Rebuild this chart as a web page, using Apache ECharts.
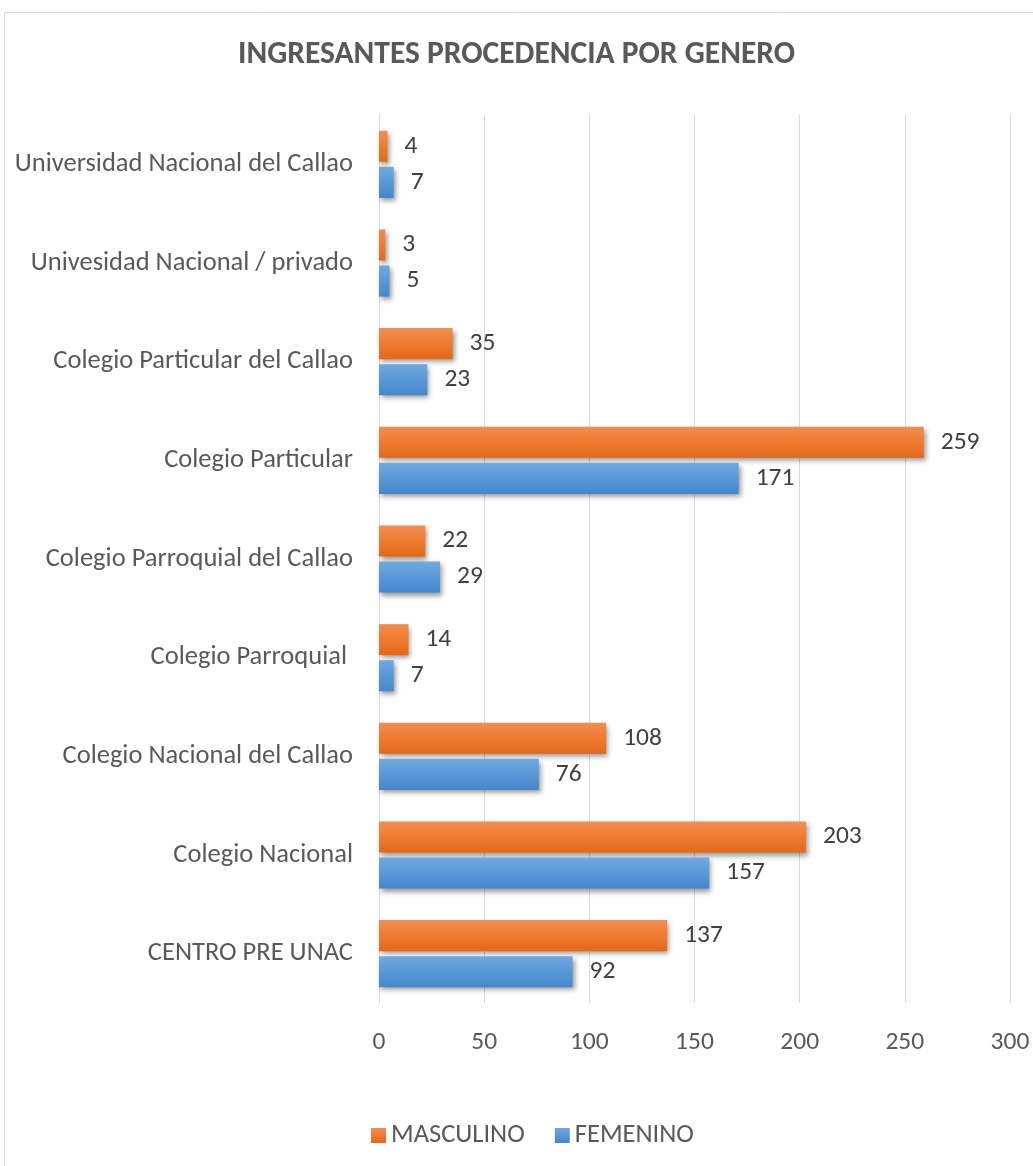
<!DOCTYPE html>
<html>
<head>
<meta charset="utf-8">
<script src="https://cdn.jsdelivr.net/npm/echarts@6/dist/echarts.min.js"></script>
<style>
html,body{margin:0;padding:0;background:#fff;}
#chart{width:1033px;height:1166px;}
</style>
</head>
<body>
<div id="chart"></div>
<script>
const categories = ['CENTRO PRE UNAC','Colegio Nacional','Colegio Nacional del Callao','Colegio Parroquial ','Colegio Parroquial del Callao','Colegio Particular','Colegio Particular del Callao','Univesidad Nacional / privado','Universidad Nacional del Callao'];
const masculino = [137, 203, 108, 14, 22, 259, 35, 3, 4];
const femenino = [92, 157, 76, 7, 29, 171, 23, 5, 7];
const xTicks = {min: 0, max: 300, interval: 50};

const FONT = "Carlito, 'Open Sans', sans-serif";
const chart = echarts.init(document.getElementById('chart'));
const orange = new echarts.graphic.LinearGradient(0,0,0,1,[{offset:0,color:'#F18D55'},{offset:0.5,color:'#EF7B2E'},{offset:1,color:'#E2691A'}]);
const blue = new echarts.graphic.LinearGradient(0,0,0,1,[{offset:0,color:'#72A8DE'},{offset:0.5,color:'#5898D8'},{offset:1,color:'#4786CC'}]);
const labelStyle = {show:true, position:'right', distance:17, color:'#404040', fontSize:25.5, fontFamily:FONT};
const shadow = {shadowBlur:5, shadowOffsetX:2, shadowOffsetY:3, shadowColor:'rgba(0,0,0,0.4)'};
chart.setOption({
  backgroundColor:'#fff',
  animation:false,
  graphic:[{type:'rect', shape:{x:4.5,y:12.5,width:1040,height:1170}, style:{fill:'none', stroke:'#D9D9D9', lineWidth:1}}],
  title:{text:'INGRESANTES PROCEDENCIA POR GENERO', left:'center', top:34,
    textStyle:{fontSize:31.5, fontWeight:'bold', color:'#595959', fontFamily:FONT}},
  legend:{data:['MASCULINO','FEMENINO'], bottom:12, left:366, itemWidth:15, itemHeight:15, itemGap:30, icon:'rect',
    textStyle:{fontSize:26.5, color:'#595959', fontFamily:FONT}},
  grid:{left:379, right:23, top:115, bottom:163, containLabel:false},
  xAxis:{type:'value', min:xTicks.min, max:xTicks.max, interval:xTicks.interval,
    axisLine:{show:false}, axisTick:{show:false},
    splitLine:{lineStyle:{color:'#D9D9D9', width:1}},
    axisLabel:{fontSize:25.5, color:'#595959', margin:27, fontFamily:FONT}},
  yAxis:{type:'category', data:categories,
    axisLine:{show:true, lineStyle:{color:'#D9D9D9'}}, axisTick:{show:false},
    axisLabel:{fontSize:26.5, color:'#595959', margin:26, fontFamily:FONT}},
  series:[
    {name:'MASCULINO', type:'bar', data:masculino, barCategoryGap:'32%', barGap:'16%',
      itemStyle:Object.assign({color:orange}, shadow), label:labelStyle},
    {name:'FEMENINO', type:'bar', data:femenino, barCategoryGap:'32%', barGap:'16%',
      itemStyle:Object.assign({color:blue}, shadow), label:labelStyle}
  ]
});
</script>
</body>
</html>
